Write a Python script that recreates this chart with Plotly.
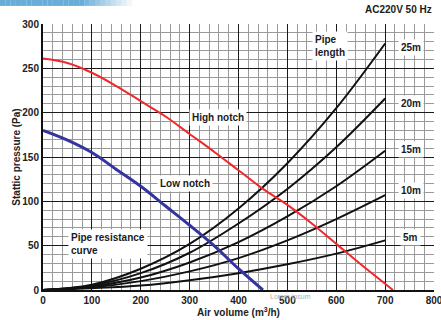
import plotly.graph_objects as go

# fan curves (air volume m3/h -> static pressure Pa)
high_x = [0, 50, 100, 150, 200, 250, 300, 350, 400, 450, 500, 550, 600, 650, 700, 716]
high_p = [261, 256, 245, 230, 213, 196, 176, 156, 135, 114, 96, 75, 52, 29, 7, 0]

low_x = [0, 50, 100, 150, 200, 250, 300, 350, 400, 450]
low_p = [180, 169, 155, 136, 117, 95, 73, 50, 24, 0]

# pipe resistance curves
pipe_x = [0, 100, 200, 300, 400, 500, 600, 700]
pipe_25m = [0, 6, 24, 52, 92, 143, 205, 278]
pipe_20m = [0, 5, 19, 42, 75, 114, 161, 216]
pipe_15m = [0, 4, 14, 31, 54, 83, 117, 157]
pipe_10m = [0, 3, 10, 21, 36, 56, 80, 107]
pipe_5m = [0, 2, 5, 11, 19, 29, 41, 56]

pipe_labels = ["25m", "20m", "15m", "10m", "5m"]
pipe_label_y = [273, 210, 159, 112, 59]

FONT = "Liberation Sans, Arial, sans-serif"

fig = go.Figure()

for series in [pipe_25m, pipe_20m, pipe_15m, pipe_10m, pipe_5m]:
    fig.add_trace(go.Scatter(x=pipe_x, y=series, mode="lines",
                             line=dict(color="#111111", width=2, shape="spline"),
                             showlegend=False, hoverinfo="skip"))

fig.add_trace(go.Scatter(x=high_x, y=high_p, mode="lines",
                         line=dict(color="#f0282d", width=2, shape="spline"),
                         showlegend=False))
fig.add_trace(go.Scatter(x=low_x, y=low_p, mode="lines",
                         line=dict(color="#3434a0", width=3, shape="spline"),
                         showlegend=False))

lab = dict(family=FONT, size=10, color="#1a1a1a")
box = dict(bgcolor="white", borderpad=2, showarrow=False, font=lab)

annotations = [
    dict(x=587, y=275, text="<b>Pipe<br>length</b>", align="left", **box),
    dict(x=358, y=194, text="<b>High notch</b>", **box),
    dict(x=290, y=120, text="<b>Low notch</b>", **box),
    dict(x=51, y=52, text="<b>Pipe resistance<br>curve</b>", xanchor="left", align="left", **box),
]
for name, yy in zip(pipe_labels, pipe_label_y):
    annotations.append(dict(x=752, y=yy, text="<b>%s</b>" % name, **box))

annotations += [
    dict(xref="paper", yref="paper", x=1.0, y=1.025, xanchor="right", yanchor="bottom",
         text="<b>AC220V 50 Hz</b>", showarrow=False, font=dict(family=FONT, size=10, color="#1a1a1a")),
    dict(xref="paper", yref="paper", x=0.69, y=-0.005, yanchor="top",
         text="Lorem ipsum", showarrow=False,
         font=dict(family=FONT, size=7, color="#b0b0b0")),
]

# faded blue header strip
shapes = []
n = 26
for i in range(n):
    x0 = -0.11 + i * 0.0135
    fade = 1.0 if i < 16 else max(0.0, 1 - (i - 15) / 10)
    shapes.append(dict(type="rect", xref="paper", yref="paper",
                       x0=x0, x1=x0 + 0.0136, y0=1.068, y1=1.095,
                       fillcolor="#4e9fd2", opacity=0.85 * fade, line_width=0, layer="above"))

fig.update_layout(
    width=441, height=320,
    margin=dict(l=43, r=7, t=24, b=30, autoexpand=False),
    paper_bgcolor="white", plot_bgcolor="white",
    font=dict(family=FONT, size=10, color="#222222"),
    annotations=annotations, shapes=shapes,
    xaxis=dict(range=[0, 800], dtick=100, showgrid=True, gridcolor="#1a1a1a", gridwidth=1.1,
               tickfont=dict(family=FONT, size=10, color="#222222", weight="bold"),
               ticklabeloverflow="allow",
               minor=dict(dtick=20, showgrid=True, gridcolor="#9a9a9a", gridwidth=0.7),
               showline=True, linecolor="#111111", linewidth=2, mirror=False,
               zeroline=False, ticks="", fixedrange=True, automargin=False,
               title=dict(text="<b>Air volume (m<sup>3</sup>/h)</b>", standoff=0,
                          font=dict(family=FONT, size=10, color="#222222"))),
    yaxis=dict(range=[0, 300], dtick=50, showgrid=True, gridcolor="#1a1a1a", gridwidth=1.1,
               tickfont=dict(family=FONT, size=10, color="#222222", weight="bold"),
               minor=dict(dtick=10, showgrid=True, gridcolor="#9a9a9a", gridwidth=0.7),
               showline=True, linecolor="#111111", linewidth=2,
               zeroline=False, ticks="", fixedrange=True, automargin=False,
               title=dict(text="<b>Stattic pressure (Pa)</b>", standoff=0,
                          font=dict(family=FONT, size=10, color="#222222"))),
)

# drop the page's default body margin so the figure sits at the window's corner
fig.write_html("out.html", config={"displayModeBar": False},
               post_script="document.body.style.margin='0';")
